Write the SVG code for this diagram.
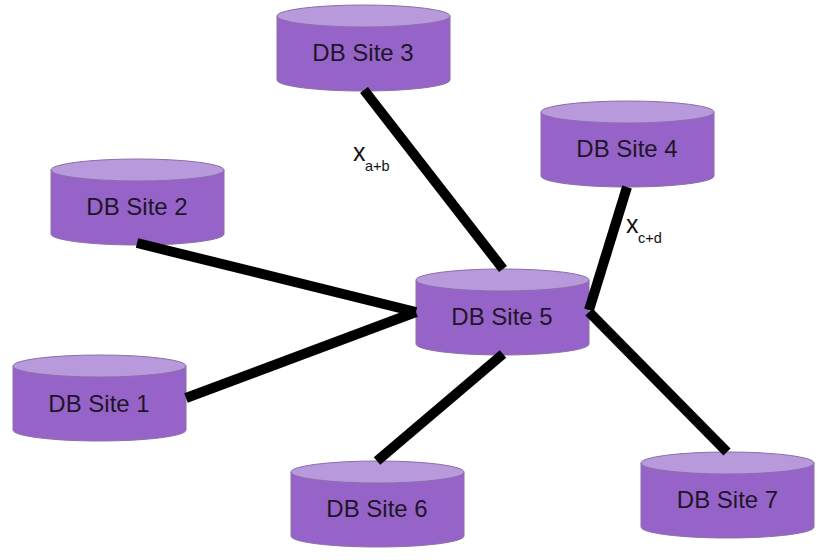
<svg xmlns="http://www.w3.org/2000/svg" width="817" height="560" viewBox="0 0 817 560">
<defs>
<g id="cyl">
<path d="M0 11V75C0 81 38.700 86 86.500 86S173 81 173 75V11Z" fill="#9664c8" stroke="#8a70a8" stroke-width="1"/>
<ellipse cx="86.500" cy="11" rx="86.500" ry="11" fill="#b899dc" stroke="#8a70a8" stroke-width="1"/>
</g>
</defs>
<style>
text{font-family:"Liberation Sans",Arial,sans-serif;fill:#1f1528}
.n{font-size:24px;text-anchor:middle}
.x{font-size:25px;fill:#111}
.s{font-size:14.500px;fill:#111}
.c{stroke:#000;stroke-width:10;fill:none}
</style>
<rect width="817" height="560" fill="#fff"/>
<g id="site3"><use href="#cyl" x="277" y="5"/><text class="n" x="363" y="61">DB Site 3</text></g>
<g id="site4"><use href="#cyl" x="541" y="101"/><text class="n" x="627" y="157">DB Site 4</text></g>
<g id="site2"><use href="#cyl" x="51" y="159"/><text class="n" x="137" y="215">DB Site 2</text></g>
<g id="site5"><use href="#cyl" x="416" y="269"/><text class="n" x="502" y="325">DB Site 5</text></g>
<g id="site1"><use href="#cyl" x="13" y="355"/><text class="n" x="99" y="412">DB Site 1</text></g>
<g id="site6"><use href="#cyl" x="291" y="461"/><text class="n" x="377" y="517">DB Site 6</text></g>
<g id="site7"><use href="#cyl" x="641" y="452"/><text class="n" x="727.500" y="508">DB Site 7</text></g>
<g id="connectors">
<line class="c" x1="364" y1="90" x2="503" y2="269"/>
<line class="c" x1="627" y1="187" x2="589" y2="310"/>
<line class="c" x1="137" y1="243" x2="416" y2="312"/>
<line class="c" x1="186" y1="398" x2="416" y2="312"/>
<line class="c" x1="503" y1="354" x2="377" y2="461"/>
<line class="c" x1="589" y1="312" x2="727" y2="452"/>
</g>
<g id="labels">
<text class="x" x="353" y="161">x</text><text class="s" x="365" y="171">a+b</text>
<text class="x" x="626" y="233">x</text><text class="s" x="638" y="243">c+d</text>
</g>
</svg>
